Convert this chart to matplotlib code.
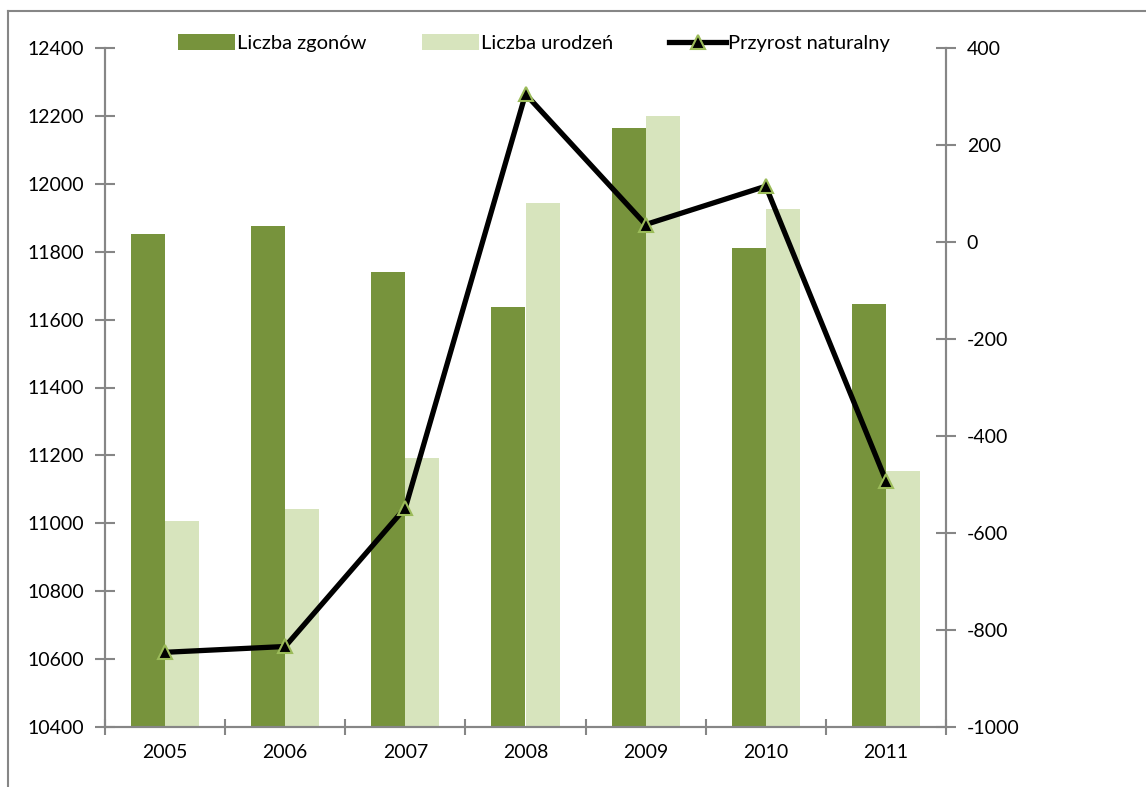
import numpy as np
import matplotlib
matplotlib.use("Agg")
import matplotlib.pyplot as plt
from matplotlib.lines import Line2D

plt.rcParams['font.family'] = ['Lato', 'DejaVu Sans']
plt.rcParams['axes.unicode_minus'] = False

lata = ['2005', '2006', '2007', '2008', '2009', '2010', '2011']
zgony = [11853, 11876, 11740, 11638, 12164, 11811, 11646]
urodzenia = [11007, 11042, 11192, 11943, 12200, 11926, 11154]
przyrost = [-846, -834, -548, 305, 36, 115, -492]

ciemny = '#77933C'
jasny = '#D7E4BD'
szary = '#868686'

fig = plt.figure(figsize=(11.46, 7.87), dpi=100)
ax = fig.add_axes([105/1146, 1 - 727/787, (946 - 105)/1146, (727 - 48)/787])
ax2 = ax.twinx()

x = np.arange(len(lata))
w = 0.283
ax.bar(x - w/2, zgony, width=w, color=ciemny, label='Liczba zgonów', zorder=2)
ax.bar(x + w/2, urodzenia, width=w, color=jasny, label='Liczba urodzeń', zorder=2)

ax2.plot(x, przyrost, color='black', lw=3.8, marker='^', markersize=10,
         markerfacecolor='black', markeredgecolor='#9BBB59', markeredgewidth=1.5,
         label='Przyrost naturalny', zorder=3)

ax.set_xlim(-0.5, len(lata) - 0.5)
ax.set_ylim(10400, 12400)
ax.set_yticks(np.arange(10400, 12401, 200))
ax2.set_ylim(-1000, 400)
ax2.set_yticks(np.arange(-1000, 401, 200))

ax.set_xticks(x)
ax.set_xticklabels(lata)
ax.set_xticks(np.arange(-0.5, len(lata), 1), minor=True)
ax.tick_params(axis='x', which='major', length=0, labelsize=14, pad=12)
ax.tick_params(axis='x', which='minor', length=12, direction='inout', color=szary, width=1.5)
ax.tick_params(axis='y', length=14, direction='inout', color=szary, width=1.5, labelsize=14, pad=8)
ax2.tick_params(axis='y', length=14, direction='inout', color=szary, width=1.5, labelsize=14, pad=8)

for a in (ax, ax2):
    a.spines['top'].set_visible(False)
    for s in ('left', 'right', 'bottom'):
        a.spines[s].set_color(szary)
        a.spines[s].set_linewidth(1.5)
ax.set_zorder(ax2.get_zorder() - 1)
ax2.patch.set_visible(False)

# ramka wykresu
fig.add_artist(Line2D([8/1146, 8/1146], [0, 1 - 11/787], color=szary, lw=1.5))
fig.add_artist(Line2D([8/1146, 1], [1 - 11/787, 1 - 11/787], color=szary, lw=1.5))

h1, l1 = ax.get_legend_handles_labels()
h2, l2 = ax2.get_legend_handles_labels()
fig.legend(h1 + h2, l1 + l2, loc='center', ncol=3, frameon=False,
           bbox_to_anchor=(534/1146, 1 - 43/787), fontsize=14.5,
           handlelength=2.8, handleheight=0.8, handletextpad=0.1, columnspacing=2.8)

fig.savefig('out.png', dpi=100)
